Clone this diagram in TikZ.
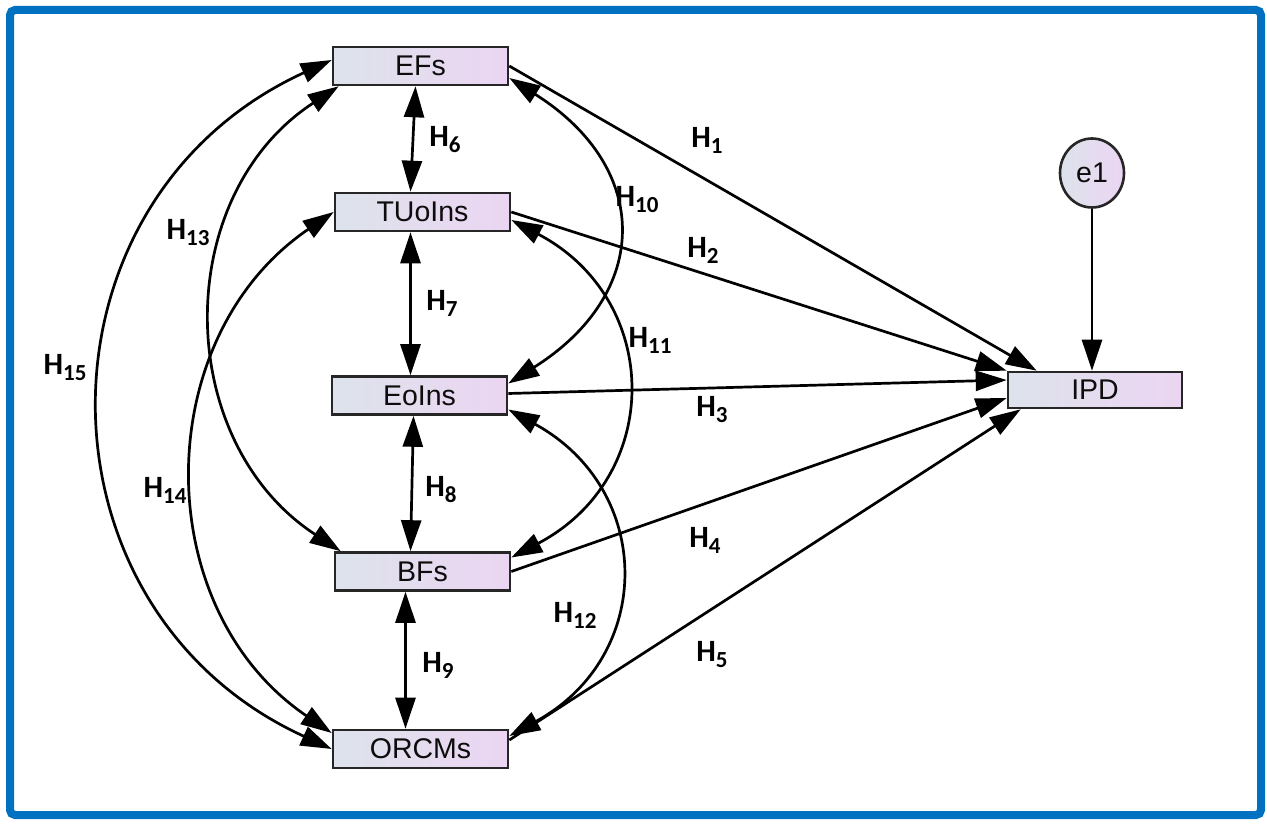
\documentclass[tikz,border=0pt]{standalone}
\usepackage{fontspec}
\setmainfont{Liberation Sans}
\newfontfamily\hfont{Carlito}
\usetikzlibrary{arrows.meta,calc,shapes.geometric}
\definecolor{boxl}{RGB}{221,227,236}
\definecolor{boxr}{RGB}{236,213,242}
\definecolor{frameblue}{RGB}{0,112,192}
\tikzset{every picture/.style={line width=2.7pt}}
\newcommand{\hyp}[1]{{\hfont\bfseries\fontsize{31}{31}\selectfont H\raisebox{-6pt}{\fontsize{23}{23}\selectfont #1}}}

\begin{document}
\begin{tikzpicture}[x=1pt,y=1pt,
    var/.style={draw=black!85,line width=2.6pt,left color=boxl,right color=boxr,
        minimum width=175pt,minimum height=38pt,inner sep=0pt,text=black!95,
        font=\fontsize{28.5}{28.5}\selectfont},
    path/.style={-{Triangle[length=31pt,width=20pt]}},
    cov/.style={{Triangle[length=31pt,width=20pt]}-{Triangle[length=31pt,width=20pt]}}]
    \useasboundingbox (0,0) rectangle (1267,823);
    % frame
    \draw[frameblue,line width=8pt,rounded corners=5pt] (10,813) rectangle (1261,8);

    % variables
    \node[var] (EFs) at (420.5,757) {EFs};
    \node[var] (TUoIns) at (422.5,611) {TUoIns};
    \node[var] (EoIns) at (419.5,427.5) {EoIns};
    \node[var] (BFs) at (422.5,251.5) {BFs};
    \node[var] (ORCMs) at (420.5,74) {ORCMs};
    \node[var,minimum width=174pt,minimum height=36pt] (IPD) at (1095,433) {IPD};
    \node[var,ellipse,minimum width=64pt,minimum height=69pt] (e1) at (1092,650) {e1};

    % paths to IPD
    \draw[path] (EFs.east) -- ([xshift=30pt]IPD.north west);
    \draw[path] (TUoIns.east) -- (IPD.north west);
    \draw[path] ([yshift=2pt]EoIns.east) -- ([yshift=10pt]IPD.west);
    \draw[path] (BFs.east) -- ([yshift=-8pt]IPD.west);
    \draw[path] ([yshift=9pt]ORCMs.east) -- ([xshift=14pt]IPD.south west);
    \draw[path] (e1) -- (e1 |- IPD.north);

    % covariances between neighbours
    \draw[cov] ([xshift=-5pt]EFs.south) -- ([xshift=-12pt]TUoIns.north);
    \draw[cov] ([xshift=-12pt]TUoIns.south) -- ([xshift=-9pt]EoIns.north);
    \draw[cov] ([xshift=-6pt]EoIns.south) -- ([xshift=-12pt]BFs.north);
    \draw[cov] ([xshift=-17pt]BFs.south) -- ([xshift=-15pt]ORCMs.north);

    % covariances on the right
    \draw[cov] ([yshift=-12pt]EFs.east) .. controls +(143,-90) and +(143,90) .. ([yshift=12pt]EoIns.east);
    \draw[cov] ([yshift=-8pt]TUoIns.east) .. controls +(152,-80) and +(152,80) .. ([yshift=14pt]BFs.east);
    \draw[cov] ([yshift=-14pt]EoIns.east) .. controls +(146,-80) and +(146,80) .. ([yshift=13pt]ORCMs.east);

    % covariances on the left
    \draw[cov] ([xshift=7pt]EFs.south west) .. controls +(-168,-110) and +(-168,110) .. ([xshift=7pt]BFs.north west);
    \draw[cov] (TUoIns.west) .. controls +(-184,-125) and +(-184,125) .. ([yshift=16pt]ORCMs.west);
    \draw[cov] ([yshift=6pt]EFs.west) .. controls +(-306,-140) and +(-306,140) .. (ORCMs.west);

    % hypotheses
    \node (h1) at (707,683) {\hyp{1}};
    \node (h2) at (703,573) {\hyp{2}};
    \node (h3) at (712,413) {\hyp{3}};
    \node (h4) at (705,283) {\hyp{4}};
    \node (h5) at (712,168) {\hyp{5}};
    \node (h6) at (445,683) {\hyp{6}};
    \node (h7) at (442,520) {\hyp{7}};
    \node (h8) at (441,333) {\hyp{8}};
    \node (h9) at (438,158) {\hyp{9}};
    \node (h10) at (637,623) {\hyp{10}};
    \node (h11) at (650,483) {\hyp{11}};
    \node (h12) at (575,208) {\hyp{12}};
    \node (h13) at (188,590) {\hyp{13}};
    \node (h14) at (165,333) {\hyp{14}};
    \node (h15) at (65,455) {\hyp{15}};
\end{tikzpicture}
\end{document}
